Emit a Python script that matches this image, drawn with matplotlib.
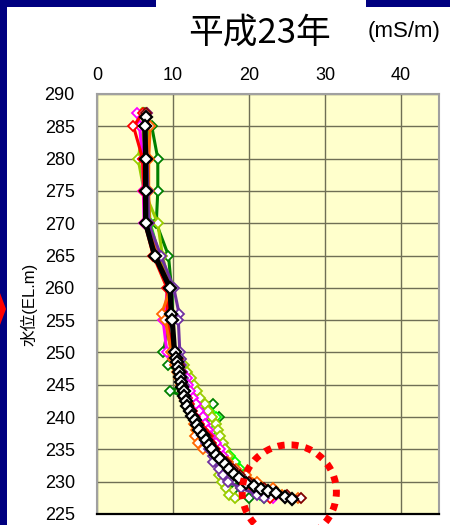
import matplotlib
matplotlib.use("Agg")
import matplotlib.pyplot as plt
from matplotlib.patches import Ellipse, Rectangle, Polygon

plt.rcParams['font.family'] = ['Liberation Sans', 'Noto Sans CJK JP', 'DejaVu Sans']

# elevations (EL.m) shared by the coloured profiles
ELEV = [287, 285, 280, 275, 270, 265, 260, 256, 255, 250, 249, 248, 247, 246,
        245, 244, 243, 242, 241, 240, 239, 238, 237, 236, 235, 234, 233, 232,
        231, 230, 229, 228, 227.5]

# conductivity (mS/m) per profile
dark_green = [6.2, 7.2, 8.0, 8.0, 7.8, 9.4, 9.8, 9.9, 9.6, 8.7, 10.0, 9.4, 10.8, 11.0,
              11.4, 9.6, 12.0, 15.2, 13.5, 16.1, 14.3, 14.9, 15.6, 16.0, 16.5, 17.0, 17.6, 16.8,
              18.4, 17.8, 19.0, 18.5, 20.0]
lime = [6.1, 6.8, 6.6, 6.7, 7.0, 8.2, 9.8, 9.9, 9.9, 10.2, 10.6, 11.0, 11.4, 11.9,
        12.3, 12.8, 13.2, 13.7, 14.8, 15.7, 15.0, 15.4, 15.8, 16.3, 16.9, 17.5, 18.1, 18.8,
        19.2, 19.8, 20.6, 21.4, 22.0]
yellow_green = [5.9, 6.2, 5.4, 6.2, 8.0, 8.6, 9.6, 9.2, 9.0, 9.8, 10.8, 11.5, 11.9, 12.4,
                12.7, 13.2, 13.6, 14.2, 14.6, 15.1, 15.6, 15.9, 16.2, 16.6, 16.9, 17.2, 17.0, 16.4,
                16.0, 16.5, 17.0, 17.4, 18.2]
magenta = [5.2, 5.6, 6.0, 6.1, 6.2, 7.8, 9.3, 8.9, 8.7, 9.2, 10.0, 10.5, 11.2, 11.8,
           12.0, 12.3, 12.6, 13.0, 13.4, 13.9, 14.2, 14.6, 14.9, 15.6, 16.2, 16.6, 17.0, 17.6,
           18.5, 19.5, 20.8, 22.0, 23.1]
red = [6.0, 4.8, 6.0, 6.2, 6.3, 7.4, 9.2, 9.3, 9.2, 10.0, 10.4, 10.6, 10.8, 11.0,
       11.2, 11.4, 11.8, 12.1, 12.5, 12.9, 13.4, 13.9, 14.6, 15.0, 15.5, 16.0, 16.7, 17.5,
       18.4, 19.5, 20.5, 21.8, 22.8]
orange = [6.6, 7.0, 6.8, 6.8, 6.9, 7.9, 9.7, 8.5, 9.0, 9.8, 10.0, 10.2, 10.5, 10.8,
          11.0, 11.3, 11.6, 11.9, 12.2, 12.5, 12.7, 13.0, 12.9, 13.3, 14.0, 15.5, 17.2, 18.3,
          19.6, 21.1, 23.1, 24.4, 26.4]
purple = [6.6, 6.4, 6.6, 6.7, 6.8, 8.4, 10.1, 10.8, 10.7, 10.9, 11.0, 11.1, 11.2, 11.3,
          11.4, 11.5, 11.7, 11.9, 12.2, 12.6, 13.0, 13.4, 13.9, 14.3, 14.8, 15.2, 15.2, 16.0,
          16.6, 17.2, 19.0, 21.0, 22.0]
dark_red = [6.5, 6.4, 6.3, 6.3, 6.4, 7.5, 9.5, 9.7, 9.8, 10.3, 10.6, 10.8, 11.0, 11.1,
            11.2, 11.4, 11.5, 11.8, 12.2, 12.7, 13.2, 13.7, 14.3, 14.9, 15.4, 16.1, 17.0, 17.9,
            18.8, 20.0, 22.0, 25.0, 26.8]

# latest survey (black)
ELEV_LATEST = [286.5, 285, 280, 275, 270, 265, 260, 256, 255, 250, 249.2, 248.5, 247.7,
               247, 246.2, 245.5, 244.7, 244, 243.2, 242.5, 241.7, 241, 240.2, 239.5, 238.7,
               238, 237.2, 236.5, 235.7, 235, 234.2, 233.5, 232.7, 232, 231.2, 230.5, 229.8,
               229.3, 228.9, 228.6, 228.2, 227.7, 227.3]
latest = [6.4, 6.3, 6.4, 6.4, 6.4, 7.6, 9.6, 9.8, 9.9, 10.2, 10.4, 10.5, 10.6,
          10.8, 10.9, 11.0, 11.2, 11.4, 11.5, 11.7, 11.9, 12.2, 12.5, 12.9, 13.2,
          13.4, 13.9, 14.4, 14.8, 15.1, 15.6, 16.2, 16.8, 17.4, 18.0, 18.7, 19.6,
          20.6, 21.6, 22.5, 23.6, 24.7, 25.7]

SERIES = [
    (dark_green, '#008000'),
    (lime, '#00ff00'),
    (yellow_green, '#99cc00'),
    (magenta, '#ff00ff'),
    (red, '#ff0000'),
    (orange, '#ff6600'),
    (purple, '#7030a0'),
    (dark_red, '#800000'),
]

fig = plt.figure(figsize=(4.5, 5.25), dpi=100)
fig.patch.set_facecolor('white')

# slide frame remnants
fig.patches.append(Rectangle((0, 0), 7 / 450, 1, transform=fig.transFigure,
                             facecolor='#000080', edgecolor='none', zorder=0))
fig.patches.append(Rectangle((0, 518 / 525), 156 / 450, 7 / 525, transform=fig.transFigure,
                             facecolor='#000080', edgecolor='none', zorder=0))
fig.patches.append(Rectangle((366 / 450, 518 / 525), 84 / 450, 7 / 525, transform=fig.transFigure,
                             facecolor='#000080', edgecolor='none', zorder=0))
fig.patches.append(Polygon([(0, 232 / 525), (6 / 450, 216 / 525), (0, 200 / 525)],
                           closed=True, transform=fig.transFigure,
                           facecolor='#ff0000', edgecolor='none', zorder=1))

ax = fig.add_axes([97 / 450, 11 / 525, 342 / 450, 420 / 525])
ax.set_facecolor('#ffffcc')

for values, color in SERIES:
    ax.plot(values, ELEV, color=color, lw=2.2, marker='D', ms=5.6,
            mfc='white', mec=color, mew=1.3, zorder=3)

ax.plot(latest, ELEV_LATEST, color='black', lw=3.8, marker='D', ms=6.3,
        mfc='white', mec='black', mew=1.6, zorder=5)

ax.set_xlim(0, 45)
ax.set_ylim(225, 290)
ax.set_xticks([0, 10, 20, 30, 40])
ax.set_yticks(range(225, 291, 5))
ax.xaxis.tick_top()
ax.tick_params(axis='x', length=0, pad=7, labelsize=13)
ax.tick_params(axis='y', length=0, pad=16, labelsize=13)
ax.grid(True, color='#6f6f55', lw=1.0)
ax.set_axisbelow(True)

for side in ['top', 'left', 'right']:
    ax.spines[side].set_color('#a0a0a0')
    ax.spines[side].set_linewidth(1.5)
ax.spines['bottom'].set_color('black')
ax.spines['bottom'].set_linewidth(1.6)

ax.set_ylabel('水位(EL.m)', fontsize=12, labelpad=5)

# highlight ring around the bottom of the profile
ring = Ellipse((25.3, 228.4), 12.4, 14.6, fill=False, edgecolor='#ff0000',
               lw=5.0, linestyle=(0, (1, 1.0)), clip_on=False, zorder=6)
ax.add_patch(ring)

fig.text(260 / 450, 1 - 33 / 525, '平成23年', fontsize=25, ha='center', va='center',
         family=['Noto Sans CJK JP', 'DejaVu Sans'])
fig.text(404 / 450, 1 - 32 / 525, '(mS/m)', fontsize=16, ha='center', va='center')

fig.savefig('out.png', dpi=100)
